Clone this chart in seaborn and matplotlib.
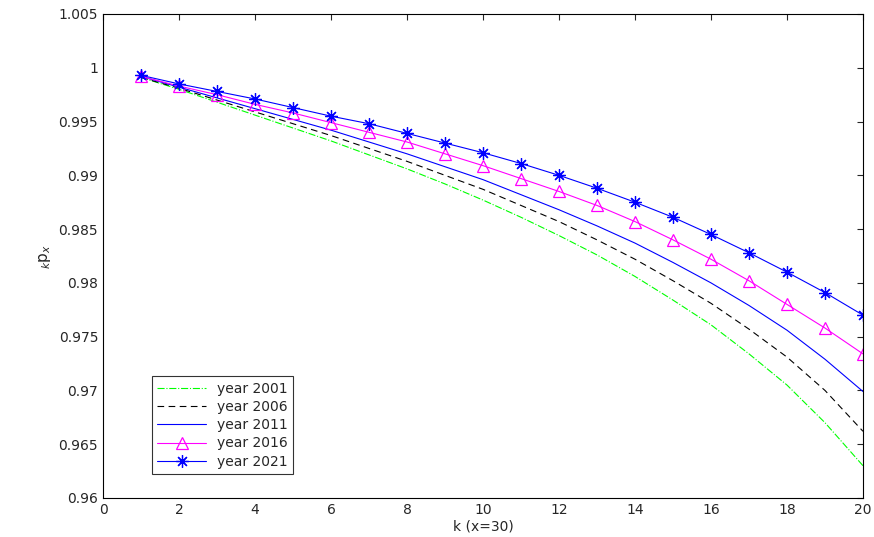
import matplotlib
matplotlib.use('Agg')
import matplotlib.pyplot as plt
import seaborn as sns
import pandas as pd

k = list(range(1, 21))
y2001 = [0.9991, 0.9980, 0.9968, 0.9956, 0.9944, 0.9932, 0.9919, 0.9906, 0.9892, 0.9877,
         0.9861, 0.9844, 0.9826, 0.9806, 0.9784, 0.9761, 0.9734, 0.9705, 0.9670, 0.9630]
y2006 = [0.9991, 0.9981, 0.9970, 0.9959, 0.9948, 0.9937, 0.9925, 0.9913, 0.9900, 0.9887,
         0.9872, 0.9857, 0.9840, 0.9822, 0.9802, 0.9781, 0.9757, 0.9731, 0.9700, 0.9662]
y2011 = [0.9992, 0.9982, 0.9972, 0.9962, 0.9952, 0.9942, 0.9931, 0.9920, 0.9908, 0.9896,
         0.9882, 0.9868, 0.9853, 0.9837, 0.9819, 0.9800, 0.9779, 0.9756, 0.9729, 0.9699]
y2016 = [0.9992, 0.9983, 0.9975, 0.9966, 0.9958, 0.9949, 0.9940, 0.9931, 0.9920, 0.9909,
         0.9897, 0.9885, 0.9872, 0.9857, 0.9840, 0.9822, 0.9802, 0.9780, 0.9758, 0.9734]
y2021 = [0.9993, 0.9985, 0.9978, 0.9971, 0.9963, 0.9955, 0.9948, 0.9939, 0.9930, 0.9921,
         0.9911, 0.9900, 0.9888, 0.9875, 0.9861, 0.9845, 0.9828, 0.9810, 0.9791, 0.9770]

sns.set_style("white")
plt.rcParams['font.family'] = ['DejaVu Sans']

fig = plt.figure(figsize=(8.74, 5.37), dpi=100)
ax = fig.add_axes([103/874, 1 - 498/537, 760/874, 484/537])

styles = [
    ("year 2001", y2001, dict(color="#00ff00", linestyle="-.")),
    ("year 2006", y2006, dict(color="black", linestyle=(0, (6, 4)))),
    ("year 2011", y2011, dict(color="blue", linestyle="-")),
    ("year 2016", y2016, dict(color="magenta", linestyle="-", marker="^", markersize=9,
                               markerfacecolor="none", markeredgecolor="magenta",
                               markeredgewidth=0.9)),
    ("year 2021", y2021, dict(color="blue", linestyle="-", marker=(8, 2, 0), markersize=9,
                               markeredgecolor="blue", markeredgewidth=0.9)),
]
for lab, ys, kw in styles:
    df = pd.DataFrame({"k": k, "p": ys})
    sns.lineplot(data=df, x="k", y="p", ax=ax, label=lab, linewidth=0.8, **kw)

ax.set_xlim(0, 20)
ax.set_ylim(0.96, 1.005)
ax.set_xticks(range(0, 21, 2))
ax.set_yticks([0.96, 0.965, 0.97, 0.975, 0.98, 0.985, 0.99, 0.995, 1.0, 1.005])
ax.set_yticklabels(["0.96", "0.965", "0.97", "0.975", "0.98", "0.985", "0.99", "0.995", "1", "1.005"])
ax.tick_params(direction="in", top=True, right=True, labelsize=10, length=4)
for s in ax.spines.values():
    s.set_color("black"); s.set_linewidth(0.8)
ax.set_xlabel("k (x=30)", fontsize=10, labelpad=2)
ax.set_ylabel(r"${}_k\mathrm{p}_x$", fontsize=11)
leg = ax.legend(loc="lower left", bbox_to_anchor=(0.055, 0.035), fancybox=False,
                edgecolor="black", fontsize=10, handlelength=3.5, borderpad=0.4,
                labelspacing=0.3)
leg.get_frame().set_linewidth(0.8)

plt.savefig("out.png", dpi=100)
